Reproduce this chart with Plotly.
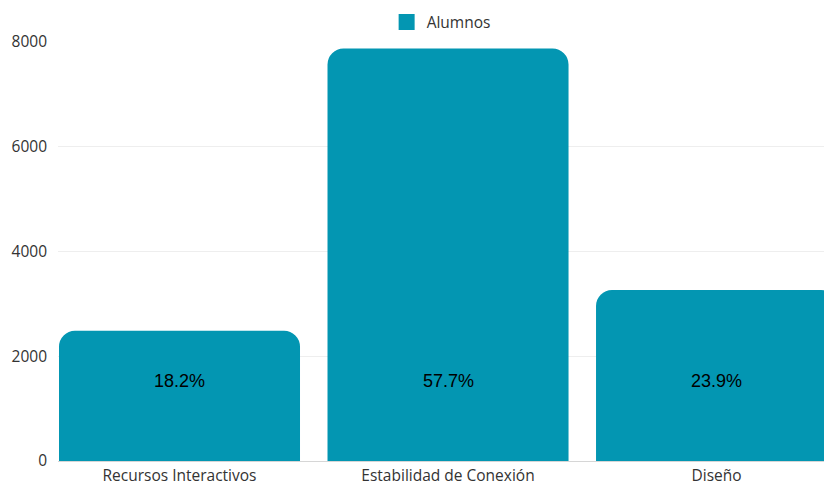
import plotly.graph_objects as go

categories = ["Recursos Interactivos", "Estabilidad de Conexión", "Diseño"]
alumnos = [2485, 7875, 3265]
percent_labels = ["18.2%", "57.7%", "23.9%"]
y_ticks = [0, 2000, 4000, 6000, 8000]

BAR_COLOR = "#0396B2"
LABEL_Y = 1530

fig = go.Figure()
fig.add_trace(go.Bar(
    x=list(range(len(categories))),
    y=alumnos,
    name="Alumnos",
    marker=dict(color=BAR_COLOR, cornerradius=16, line=dict(width=0)),
    width=0.8976,
    hoverinfo="skip",
    showlegend=False,
))
# legend entry with a square swatch
fig.add_trace(go.Scatter(
    x=[None], y=[None], mode="markers", name="Alumnos",
    marker=dict(symbol="square", size=22, color=BAR_COLOR),
    showlegend=True,
))

for i, lab in enumerate(percent_labels):
    fig.add_annotation(
        x=i, y=LABEL_Y, text=lab, showarrow=False,
        font=dict(family="Liberation Sans, Arial", size=18, color="#000000"),
        xref="x", yref="y",
    )

# page body has an 8px margin, so the figure is 8px smaller and margins shifted
fig.update_layout(
    width=824, height=477,
    margin=dict(l=50, r=0, t=34, b=24, autoexpand=False),
    paper_bgcolor="white", plot_bgcolor="white",
    font=dict(family="Open Sans", size=15.5, color="#333333"),
    showlegend=True,
    legend=dict(
        orientation="h", x=0.495, xanchor="center", y=0.97, yanchor="middle",
        yref="container", font=dict(size=15.5, color="#333333"),
        itemsizing="trace", bgcolor="rgba(0,0,0,0)",
    ),
    xaxis=dict(
        tickmode="array",
        tickvals=list(range(len(categories))),
        ticktext=categories,
        range=[-0.4525, 2.430],
        showgrid=False, zeroline=False,
        showline=True, linecolor="#d6d6d6", linewidth=1,
        ticks="", tickfont=dict(size=15.5, color="#333333"),
        automargin=False,
    ),
    yaxis=dict(
        range=[0, 8000],
        tickmode="array", tickvals=y_ticks,
        showgrid=True, gridcolor="#eeeeee", gridwidth=1,
        zeroline=False, showline=False,
        ticks="", ticklabelstandoff=10,
        tickfont=dict(size=15.5, color="#333333"),
        automargin=False,
    ),
)

fig.write_html("out.html")
